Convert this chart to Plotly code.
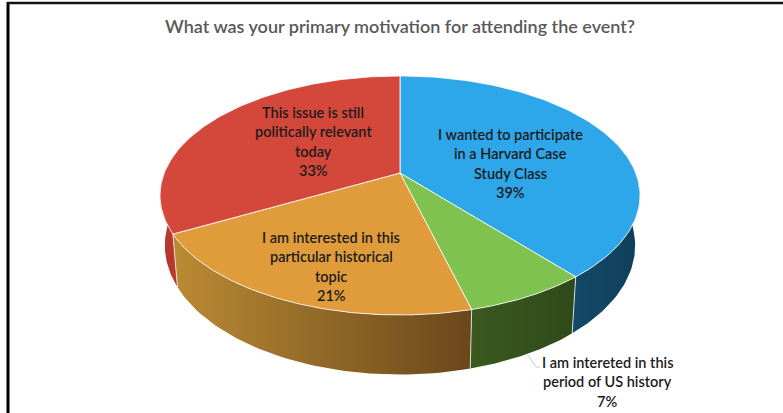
import numpy as np
import plotly.graph_objects as go

TITLE = "What was your primary motivation for attending the event?"
labels = ["I wanted to participate\nin a Harvard Case\nStudy Class",
          "I am intereted in this\nperiod of US history",
          "I am interested in this\nparticular historical\ntopic",
          "This issue is still\npolitically relevant\ntoday"]
values = [39, 7, 21, 33]
top_colors = ["#2ea6ea", "#7fc24f", "#e09b3b", "#d4483b"]
wall_stops = [["#134a68", "#0f3f5a"], ["#3a5a20", "#2f4a1a"], ["#bb8a34", "#6a471b"], ["#b8382d", "#b03a2e"]]
label_pos = [(510, 134), (607, 362), (331, 237), (313, 112)]
W, H = 783, 413

# perspective projection of the tilted disc, in pixels
cx, cy, A, B, k = 400, 173, 235.7, 115.3, 0.188

def top(th):
    u, v = np.sin(th), -np.cos(th)
    d = 1 - k * v
    return cx + A * u / d, cy + B * v / d

def bottom(th):
    x, y = top(th)
    return cx + (x - cx) * 0.98, y + 34.3 + 0.08 * y

edges = np.radians(np.cumsum([0] + values) * 3.6)
fig = go.Figure()

def poly(x, y, color=None, grad=None, line=None, lw=1):
    kw = dict(x=x, y=y, mode="lines", hoverinfo="skip", showlegend=False,
              line=dict(color=line or "rgba(0,0,0,0)", width=lw))
    kw["fill"] = "toself"
    if grad:
        kw["fillgradient"] = dict(type="horizontal", colorscale=[[0, grad[0]], [1, grad[1]]])
        kw["fillcolor"] = grad[0]
    else:
        kw["fillcolor"] = color
    fig.add_trace(go.Scatter(**kw))

# side walls (only the part facing the viewer shows; the top disc covers the rest)
lo, hi = np.radians(70), np.radians(292)
for i in range(4):
    a, b = max(edges[i], lo), min(edges[i + 1], hi)
    if a >= b:
        continue
    t = np.linspace(a, b, 60)
    xt, yt = top(t)
    xb, yb = bottom(t)
    poly(np.r_[xt, xb[::-1], xt[0]], np.r_[yt, yb[::-1], yt[0]], grad=wall_stops[i])

# light separators on the wall
for e in edges[1:4]:
    xt, yt = top(e)
    xb, yb = bottom(e)
    fig.add_trace(go.Scatter(x=[xt, xb], y=[yt, yb], mode="lines", hoverinfo="skip", showlegend=False,
                             line=dict(color="rgba(255,255,255,0.75)", width=1)))

# top face
for i in range(4):
    t = np.linspace(edges[i], edges[i + 1], 120)
    x, y = top(t)
    poly(np.r_[cx, x, cx], np.r_[cy, y, cy], color=top_colors[i], line="rgba(255,255,255,0.8)", lw=1)

# leader line
fig.add_trace(go.Scatter(x=[528, 536, 540], y=[355, 367, 367], mode="lines", hoverinfo="skip", showlegend=False,
                         line=dict(color="#c8c8c8", width=1)))

ann = []
for i, lab in enumerate(labels):
    lines = lab.split("\n") + [f"{values[i]}%"]
    x0, y0 = label_pos[i]
    for j, ln in enumerate(lines):
        ann.append(dict(x=x0, y=y0 + j * 19.5, text=ln, showarrow=False, xref="x", yref="y",
                        font=dict(family="Lato", size=14.5, color="#1c1c1c", weight=600),
                        xanchor="center", yanchor="middle"))
ann.append(dict(x=400, y=26, text=TITLE, showarrow=False, xref="x", yref="y",
                font=dict(family="Lato", size=18, color="#595959", weight=600),
                xanchor="center", yanchor="middle"))

shapes = [dict(type="line", x0=8, x1=8, y0=2, y1=H, xref="x", yref="y", line=dict(color="#000", width=3)),
          dict(type="line", x0=7, x1=W, y0=3, y1=3, xref="x", yref="y", line=dict(color="#111", width=2.5))]

fig.update_layout(width=W, height=H, margin=dict(l=0, r=0, t=0, b=0), paper_bgcolor="white", plot_bgcolor="white",
                  xaxis=dict(range=[0, W], visible=False, fixedrange=True),
                  yaxis=dict(range=[H, 0], visible=False, fixedrange=True),
                  annotations=ann, shapes=shapes, showlegend=False)
fig.write_html("out.html", config={"displayModeBar": False},
               post_script="document.body.style.margin='0';document.documentElement.style.overflow='hidden';")
